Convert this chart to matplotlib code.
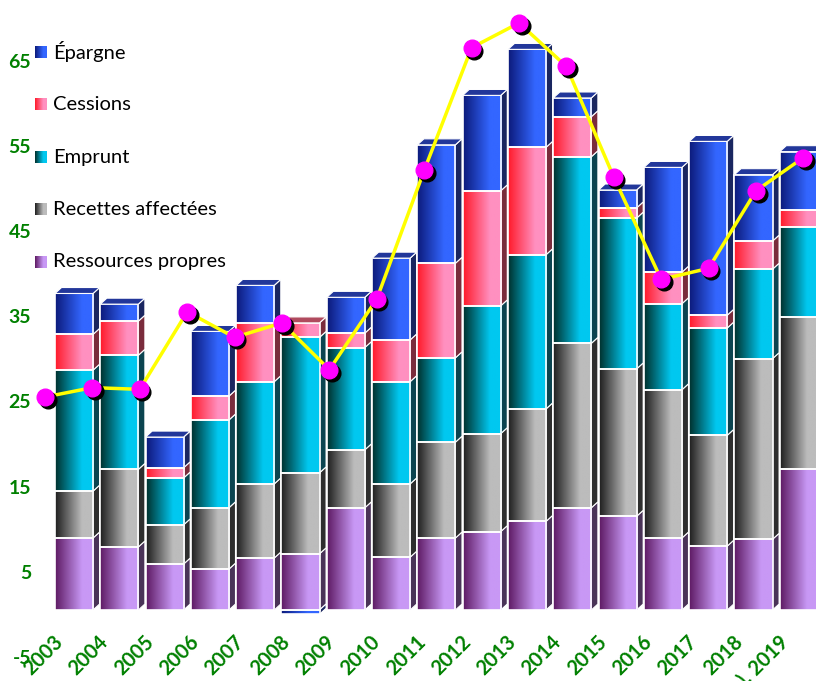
import numpy as np
import matplotlib.pyplot as plt
import matplotlib.transforms as mtransforms
from matplotlib.patches import Polygon
from matplotlib.colors import LinearSegmentedColormap

plt.rcParams['font.family'] = ['Lato', 'DejaVu Sans']

# Data
years = ['2003', '2004', '2005', '2006', '2007', '2008', '2009', '2010', '2011',
         '2012', '2013', '2014', '2015', '2016', '2017', '2018', '(p). 2019']
ressources = [8.45, 7.4, 5.4, 4.8, 6.1, 6.6, 12.0, 6.2, 8.45, 9.2, 10.4, 12.0, 11.0, 8.45, 7.5, 8.3, 16.5]
recettes = [5.5, 9.1, 4.6, 7.2, 8.7, 9.5, 6.8, 8.6, 11.25, 11.5, 13.2, 19.3, 17.3, 17.4, 13.0, 21.2, 17.9]
emprunt = [14.2, 13.4, 5.5, 10.3, 12.0, 15.9, 12.0, 12.0, 9.9, 15.0, 18.1, 21.9, 17.7, 10.1, 12.6, 10.5, 10.6]
cessions = [4.2, 4.0, 1.2, 2.8, 6.9, 1.7, 1.7, 4.9, 11.1, 13.5, 12.6, 4.7, 1.2, 3.7, 1.5, 3.3, 1.9]
epargne = [4.8, 2.0, 3.6, 7.6, 4.4, -0.5, 4.2, 9.6, 13.9, 11.2, 11.5, 2.2, 2.1, 12.3, 20.4, 7.8, 6.9]
total_line = [25.0, 26.1, 25.9, 35.0, 32.0, 33.7, 28.2, 36.5, 51.6, 66.0, 68.9, 63.8, 50.8, 38.8, 40.1, 49.2, 53.1]

series = [
    ('Ressources propres', ressources, '#5e1a63', '#c898f5', '#4a3358', '#8a5aa0'),
    ('Recettes affectées', recettes, '#1e1e1e', '#bcbcbc', '#2e2e2e', '#6a6a6a'),
    ('Emprunt', emprunt, '#00302c', '#00c8f0', '#0b4450', '#137080'),
    ('Cessions', cessions, '#ff1a2a', '#ff90c0', '#7a2c3c', '#b04a5e'),
    ('Épargne', epargne, '#0c1a7a', '#3366ff', '#1a2660', '#22379a'),
]

width = 0.84
dx, dy = 0.145, 0.7
grad = np.clip(np.linspace(0, 1, 100) / 0.7, 0, 1).reshape(1, -1)

fig = plt.figure(figsize=(8.16, 6.81), dpi=100)
ax = fig.add_axes([0, 0, 1, 1])
ax.axis('off')

x = np.arange(len(years))
pos_bottom = np.zeros(len(years))
neg_bottom = np.zeros(len(years))
top_color = {}
for name, vals, dark, light, side, topc in series:
    vals = np.array(vals)
    bottoms = np.where(vals >= 0, pos_bottom, neg_bottom)
    bars = ax.bar(x, vals, width, bottom=bottoms, color='none', edgecolor='white',
                  linewidth=1.2, zorder=4)
    cmap = LinearSegmentedColormap.from_list(name, [dark, light])
    for b in bars:
        x0, y0 = b.get_x(), b.get_y()
        w, h = b.get_width(), b.get_height()
        ya, yb = min(y0, y0 + h), max(y0, y0 + h)
        ax.imshow(grad, extent=(x0, x0 + w, ya, yb), cmap=cmap, aspect='auto',
                  interpolation='bilinear', zorder=3)
        r = x0 + w
        ax.add_patch(Polygon([(r, ya), (r + dx, ya + dy), (r + dx, yb + dy), (r, yb)],
                             closed=True, fc=side, ec='white', lw=0.8, zorder=2))
    for i, v in enumerate(vals):
        if v > 0:
            top_color[i] = topc
    pos_bottom = pos_bottom + np.where(vals >= 0, vals, 0)
    neg_bottom = neg_bottom + np.where(vals < 0, vals, 0)

# top faces of the stacks
for i in x:
    left, right, top = i - width / 2, i + width / 2, pos_bottom[i]
    ax.add_patch(Polygon([(left, top), (left + dx, top + dy), (right + dx, top + dy), (right, top)],
                         closed=True, fc=top_color[i], ec='white', lw=0.8, zorder=4))

ax.set_xlim(-74 / 45.3, (816 - 74) / 45.3)
ax.set_ylim(-(681 - 610) / 8.52, 610 / 8.52)

# y labels
shift = mtransforms.ScaledTranslation(0, -6 / 100, fig.dpi_scale_trans)
ytrans = mtransforms.blended_transform_factory(ax.transAxes, ax.transData) + shift
for v in range(-5, 70, 10):
    ax.text(31 / 816, v, str(v), transform=ytrans, ha='right', va='center',
            color='#008000', fontsize=14, fontweight='bold')

# x labels
for i, lab in enumerate(years):
    ax.text(i - 21 / 45.3, -2.55, lab, rotation=45, ha='right', va='top',
            rotation_mode='anchor', color='#008000', fontsize=14.5, fontweight='bold')

# line with markers (own horizontal scale)
ax2 = ax.twiny()
ax2.axis('off')
ax2.set_xlim(-45 / 47.4, (816 - 45) / 47.4)
xl = np.arange(len(total_line))
ax2.plot(xl, total_line, color='#ffff00', lw=2.5, zorder=5)
shadow = ax2.transData + mtransforms.ScaledTranslation(2.5 / 100, -3 / 100, fig.dpi_scale_trans)
ax2.plot(xl, total_line, 'o', color='black', ms=12, transform=shadow, zorder=6)
ax2.plot(xl, total_line, 'o', color='#ff00ff', ms=12, mec='#ff00ff', zorder=7)
ax2.set_ylim(ax.get_ylim())

# legend
lg = fig.add_axes([0, 0, 1, 1])
lg.set_xlim(0, 816)
lg.set_ylim(681, 0)
lg.axis('off')
for k, (name, vals, dark, light, side, topc) in enumerate(reversed(series)):
    yc = 52 + 52.5 * k
    cmap = LinearSegmentedColormap.from_list(name + 'lg', [dark, light])
    lg.imshow(grad, extent=(35, 47, yc + 6, yc - 6), cmap=cmap, aspect='auto')
    lg.text(53, yc, name, ha='left', va='center', fontsize=14.5, color='black')
lg.set_xlim(0, 816)
lg.set_ylim(681, 0)

plt.savefig('out.png', dpi=100)
